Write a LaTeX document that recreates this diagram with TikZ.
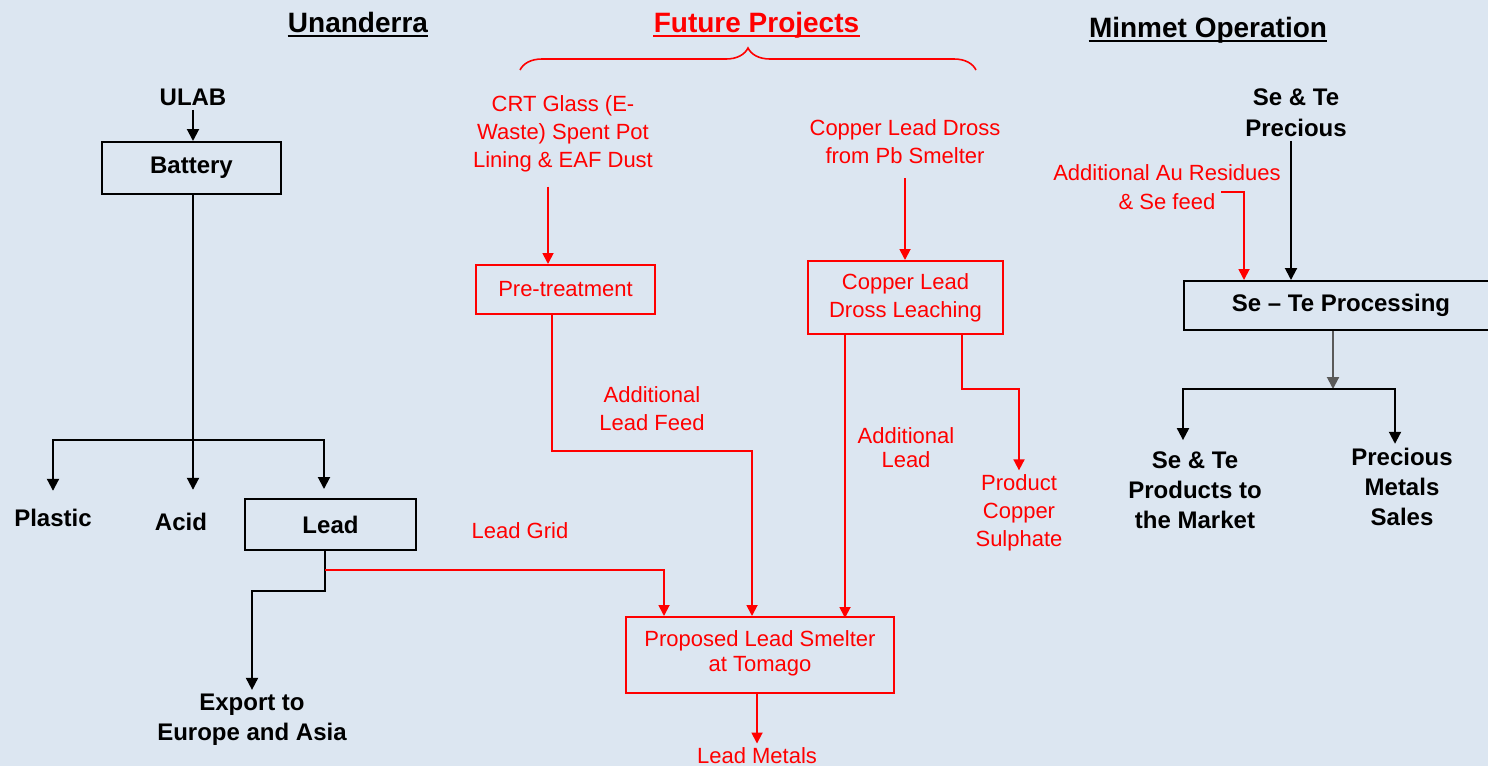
\documentclass[tikz,border=0pt]{standalone}
\usepackage{fontspec}
\setmainfont{Liberation Sans}
\usetikzlibrary{calc}
\usetikzlibrary{arrows.meta}
\usetikzlibrary{decorations.pathreplacing}
\definecolor{slidebg}{RGB}{220,230,241}
\definecolor{flowred}{RGB}{255,0,0}
\definecolor{flowgrey}{RGB}{90,90,90}
\newcommand{\blkfont}{\fontsize{12}{15}\bfseries\selectfont}
\newcommand{\redfont}{\fontsize{11}{14}\selectfont}

\begin{document}
\begin{tikzpicture}[x=0.5pt,y=-0.5pt,
  blk/.style={font=\blkfont, align=center, inner sep=2pt},
  blkbox/.style={blk, draw=black, line width=1pt},
  rd/.style={font=\redfont, text=flowred, align=center, inner sep=2pt},
  rdbox/.style={rd, draw=flowred, line width=1pt},
  blkline/.style={draw=black, line width=1pt},
  blkarrow/.style={blkline, -{Triangle[length=6pt,width=6pt]}},
  gryarrow/.style={draw=flowgrey, line width=1pt, -{Triangle[length=6pt,width=6pt]}},
  rdarrow/.style={draw=flowred, line width=0.9pt, -{Triangle[length=5.5pt,width=5.5pt]}},
  heading/.style={font=\fontsize{14}{16}\bfseries\selectfont, inner sep=0pt, anchor=base}]
\fill[slidebg] (0,0) rectangle (1488,766); %slide
\useasboundingbox (0,0) rectangle (1488,766);

\draw (358,32) node[heading] (unan) {Unanderra}; %headings
\draw[line width=1pt] ([yshift=-2pt]unan.base west) -- ([yshift=-2pt]unan.base east);
\draw (756.5,32) node[heading, text=flowred] (future) {Future Projects};
\draw[flowred, line width=1pt] ([yshift=-2pt]future.base west) -- ([yshift=-2pt]future.base east);
\draw (1208,37) node[heading] (minmet) {Minmet Operation};
\draw[line width=1pt] ([yshift=-2pt]minmet.base west) -- ([yshift=-2pt]minmet.base east);
\draw[flowred, line width=0.8pt, decorate, decoration={brace, amplitude=11pt}] (520,70) -- (976,70);

\draw (193,97) node[blk] (ulab) {ULAB}; %Unanderra
\draw (191.5,168) node[blkbox, minimum width=89.5pt, minimum height=26pt] (battery) {Battery};
\coordinate (bsplit) at (193,440);
\draw (53,518) node[blk] (plastic) {Plastic};
\draw (181,522) node[blk] (acid) {Acid};
\draw (330.5,524.5) node[blkbox, minimum width=85.5pt, minimum height=25.5pt] (lead) {Lead};
\draw (252,720) node[blk] (export) {Export to\\Europe and Asia};

\draw[blkarrow] (ulab.south) -- (ulab.south |- battery.north);
\draw[blkline] ($(battery.south)+(1.5,0)$) -- (bsplit);
\draw[blkarrow, shorten >=7pt] (bsplit) -| (plastic.north);
\draw[blkarrow, shorten >=9.5pt] (bsplit) -- (bsplit |- acid.north);
\draw[blkarrow] (bsplit) -| ($(lead.north)+(-6.5,-9)$);
\draw[blkarrow] ($(lead.south)+(-5.5,0)$) -- ++(0,40) -| (export.north);

\draw (563,134) node[rd] (crt) {CRT Glass (E-\\Waste) Spent Pot\\Lining \& EAF Dust}; %future projects
\draw (565.5,289.5) node[rdbox, minimum width=89.5pt, minimum height=24.5pt] (pretreat) {Pre-treatment};
\draw (652,409) node[rd] (addfeed) {Additional\\Lead Feed};
\draw (905,142) node[rd] (cudross) {Copper Lead Dross\\from Pb Smelter};
\draw (905.5,297.5) node[rdbox, minimum width=97.5pt, minimum height=36.5pt] (leach) {Copper Lead\\Dross Leaching};
\draw (906,448) node[rd, font=\fontsize{11}{12}\selectfont] (addlead) {Additional\\Lead};
\draw (1019,513) node[rd] (cuso4) {Product\\Copper\\Sulphate};
\draw (520,531) node[rd] (leadgrid) {Lead Grid};
\draw (760,655) node[rdbox, minimum width=134pt, minimum height=38pt, font=\fontsize{11}{12.5}\selectfont, text depth=4pt] (smelter) {Proposed Lead Smelter\\at Tomago};
\draw (757,756) node[rd] (metals) {Lead Metals};

\draw[rdarrow, shorten <=5pt] ($(crt.south)+(-15,0)$) -- ($(pretreat.north)+(-17.5,0)$);
\draw[rdarrow] ($(pretreat.south)+(-13.5,0)$) -- ++(0,136) -| ($(smelter.north)+(-8,0)$);
\draw[rdarrow, shorten <=5pt] (cudross.south) -- (cudross.south |- leach.north);
\draw[rdarrow] ($(leach.south)+(-60.5,0)$) -- ++(0,283);
\draw[rdarrow] ($(leach.south)+(56.5,0)$) -- ++(0,54) -| (cuso4.north);
\draw[rdarrow] ($(lead.south)+(-5.5,19)$) -| ($(smelter.north)+(-96,0)$);
\draw[rdarrow] (smelter.south -| metals.north) -- (metals.north);

\draw (1296,112.5) node[blk, font=\fontsize{12}{15.5}\bfseries\selectfont] (setp) {Se \& Te\\Precious}; %Minmet
\draw (1341,305.5) node[blkbox, minimum width=157pt, minimum height=24.5pt] (stproc) {Se -- Te Processing};
\draw (1167,187) node[rd, font=\fontsize{11}{14.5}\selectfont] (aufeed) {Additional Au Residues\\\& Se feed};
\coordinate (psplit) at ($(stproc.south)+(-8,58)$);
\draw (1195,490) node[blk] (semkt) {Se \& Te\\Products to\\the Market};
\draw (1402,487) node[blk] (pmsales) {Precious\\Metals\\Sales};

\draw[blkarrow] ($(setp.south)+(-5,0)$) -- ($(stproc.north)+(-50,0)$);
\draw[rdarrow] ($(aufeed.east)+(-64,5)$) -| ($(stproc.north)+(-97,0)$);
\draw[gryarrow] ($(stproc.south)+(-8,0)$) -- (psplit);
\draw[blkarrow, shorten >=3.5pt] (psplit) -| ($(semkt.north)+(-12,0)$);
\draw[blkarrow] (psplit) -| ($(pmsales.north)+(-7,0)$);
\end{tikzpicture}
\end{document}
